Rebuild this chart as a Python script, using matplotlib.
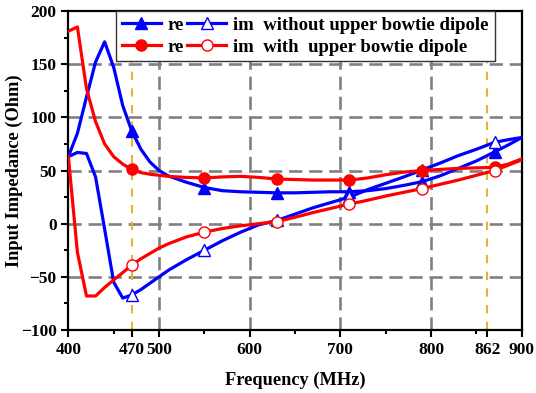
import numpy as np
import matplotlib
matplotlib.use('Agg')
import matplotlib.pyplot as plt
from matplotlib.ticker import MultipleLocator, FixedLocator

plt.rcParams['font.family'] = 'Liberation Serif'
plt.rcParams['font.weight'] = 'bold'

# frequency grid (MHz)
freq = [400, 410, 420, 430, 440, 450, 460, 470, 480, 490, 500, 510, 530, 550,
        570, 590, 610, 630, 650, 670, 690, 710, 730, 750, 770, 790, 810, 830,
        850, 870, 885, 900]
marker_freq = [470, 550, 630, 710, 790, 870]

# without upper bowtie dipole
re_without = [63, 85, 119, 152, 171, 147, 111, 87, 70, 58, 50, 45, 39, 34,
              31, 30, 29.5, 29, 29, 29.5, 30, 30, 31, 33, 36, 39.5, 45, 52,
              59, 67.5, 74, 81]
im_without = [63, 67, 66, 44, -5, -55, -70, -67, -62, -56, -50, -44, -34, -25,
              -16, -8, -1, 3, 9, 15, 20, 25, 32, 38, 44, 50.5, 57, 64,
              70, 76.5, 79, 81]

# with upper bowtie dipole
re_with = [181, 185, 127, 96, 75, 63, 56, 51, 48, 46.5, 45.5, 44.5, 43.5, 43,
           44, 44.5, 43.5, 42, 41.5, 41, 41, 41, 43, 46, 48.5, 50, 51, 52,
           52.5, 53, 56, 61]
im_with = [63, -27, -68, -68, -60, -53, -46, -39, -33, -28, -23, -19, -12.5, -8,
           -4.5, -2, 0, 2, 6, 10.5, 14.5, 18.5, 22, 26, 29.5, 33, 37, 41,
           45.5, 50, 55, 60]

xticks = [400, 470, 500, 600, 700, 800, 862, 900]
hgrid = [-50, 0, 50, 100, 150]
vgrid = [500, 600, 700, 800]
band = [470, 862]

fig = plt.figure(figsize=(5.36, 3.93), dpi=100)
ax = fig.add_axes([0.1275, 0.1603, 0.846, 0.8117])

for y in hgrid:
    ax.axhline(y, color='#808080', lw=1.9, dashes=(5, 2.6), zorder=1)
for x in vgrid:
    ax.axvline(x, color='#808080', lw=1.9, dashes=(5, 2.6), zorder=1)
for x in band:
    ax.axvline(x, color='#E8B23A', lw=1.5, dashes=(4, 4), zorder=1)

mk = [freq.index(f) for f in marker_freq]
l1, = ax.plot(freq, re_without, color='blue', lw=2.3, marker='^', ms=9,
              mfc='blue', mec='blue', mew=1, markevery=mk, zorder=3)
l2, = ax.plot(freq, im_without, color='blue', lw=2.3, marker='^', ms=9,
              mfc='white', mec='blue', mew=1, markevery=mk, zorder=3)
l3, = ax.plot(freq, re_with, color='red', lw=2.3, marker='o', ms=8,
              mfc='red', mec='red', mew=1, markevery=mk, zorder=4)
l4, = ax.plot(freq, im_with, color='red', lw=2.3, marker='o', ms=8,
              mfc='white', mec='red', mew=1, markevery=mk, zorder=4)

ax.set_xlim(400, 900)
ax.set_ylim(-100, 200)
ax.xaxis.set_major_locator(FixedLocator(xticks))
ax.xaxis.set_minor_locator(FixedLocator([450, 550, 650, 750, 850]))
ax.yaxis.set_major_locator(MultipleLocator(50))
ax.yaxis.set_minor_locator(MultipleLocator(25))
ax.tick_params(which='both', direction='out', width=1.5, labelsize=12.5)
ax.tick_params(which='major', length=5)
ax.tick_params(which='minor', length=3)
for s in ax.spines.values():
    s.set_linewidth(1.6)

ax.set_xlabel('Frequency (MHz)', fontsize=13.2, fontweight='bold', labelpad=10)
ax.set_ylabel('Input Impedance (Ohm)', fontsize=13.2, fontweight='bold')
ax.yaxis.set_label_coords(-0.1, 0.5)

leg = ax.legend([l1, l3, l2, l4],
                ['re', 're', 'im  without upper bowtie dipole', 'im  with  upper bowtie dipole'],
                ncol=2, loc='upper left', bbox_to_anchor=(0.105, 1.0),
                borderaxespad=0, fontsize=13.5, handlelength=2.1,
                handletextpad=0.37, columnspacing=0.15, labelspacing=0.25,
                borderpad=0.3, fancybox=False, framealpha=1,
                edgecolor='#333333')
leg.get_frame().set_linewidth(1.0)

fig.savefig('out.png', dpi=100)
